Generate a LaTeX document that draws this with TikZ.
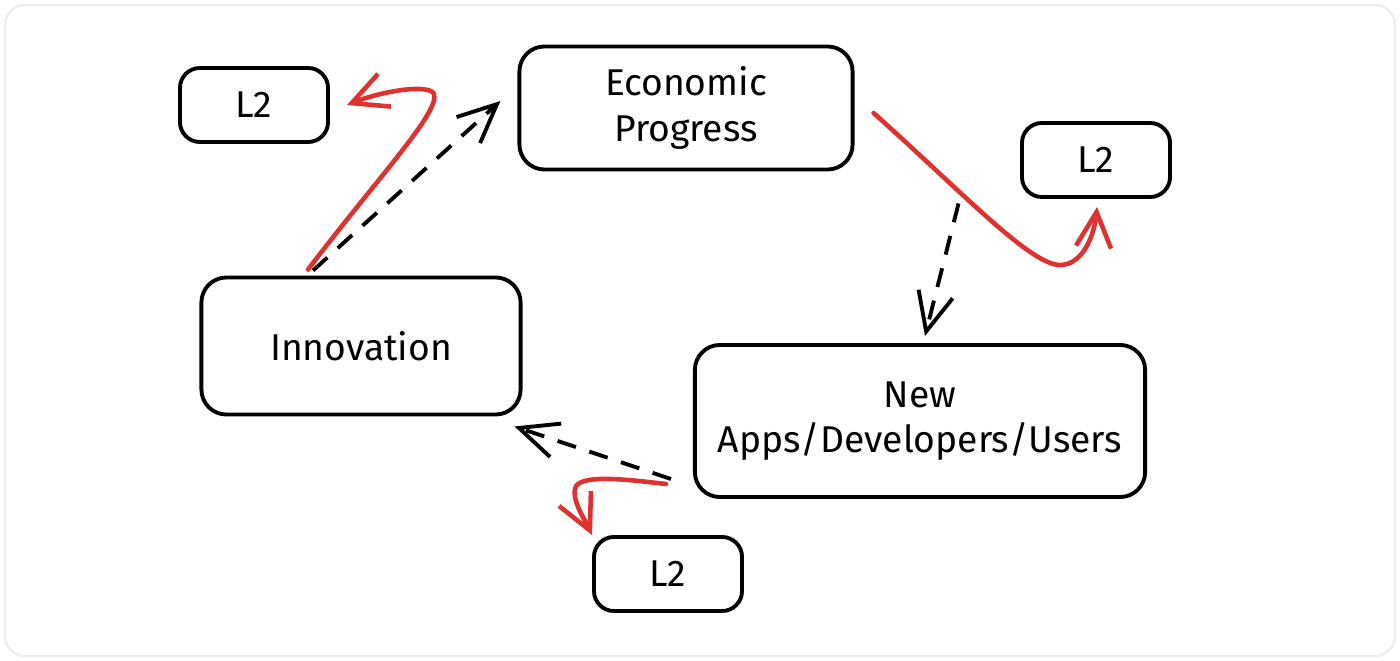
\documentclass[tikz,border=0pt]{standalone}
\usepackage{fontspec}
\setmainfont{Fira Sans}
\usetikzlibrary{arrows.meta}
\usetikzlibrary{positioning}
\usetikzlibrary{calc}
\definecolor{sketchred}{HTML}{E03131}

\begin{document}
\begin{tikzpicture}[x=0.01cm,y=-0.01cm,font=\fontsize{10.6}{13}\selectfont]
\tikzstyle{block} = [rectangle, draw=black, line width=1.1pt, rounded corners=0.25cm,
text centered, inner sep=0pt]
\tikzstyle{tag} = [block, minimum width=1.48cm, minimum height=0.74cm, rounded corners=0.2cm]
\tikzstyle{dashline} = [draw, line width=1.1pt, dash pattern=on 5.5pt off 4pt,
-{Straight Barb[length=11pt,width=10pt]}]
\tikzstyle{redline} = [draw=sketchred, line width=1.3pt, line cap=round,
-{Straight Barb[length=10pt,width=10pt]}]
% card
\useasboundingbox (0,0) rectangle (1400,661);
\draw[gray!15, line width=0.6pt, rounded corners=0.2cm] (5,5) rectangle (1395,656);
% boxes
\node [block, minimum width=3.33cm, minimum height=1.23cm, align=center] (econ) at (686,108) {Economic\\Progress};
\node [block, minimum width=3.19cm, minimum height=1.37cm] (innov) at (361,346) {Innovation};
\node [block, minimum width=4.50cm, minimum height=1.52cm, align=center] (apps) at (920,421) {New\\Apps/Developers/Users};
\node [tag] (tagleft) at (254,105) {L2};
\node [tag] (tagright) at (1096,160) {L2};
\node [tag] (tagbottom) at (668,574) {L2};
% cycle
\draw [dashline] ($(innov.north)+(-48,-5)$) -- ($(econ.west)+(-17,-7)$);
\draw [dashline] ($(econ.south east)+(104,32)$) -- ($(apps.north)+(5,-7)$);
\draw [dashline] ($(apps.south west)+(-22,-20)$) -- ($(innov.south east)+(-8,10)$);
% L2 hooks
\draw [redline] ($(innov.north)+(-53,-6)$) .. controls (380,175) and (440,112) .. (434,94)
  .. controls (430,84) and (385,90) .. ($(tagleft.east)+(17,0)$);
\draw [redline] ($(econ.east)+(19,5)$) .. controls (960,190) and (1030,265) .. (1060,265)
  .. controls (1085,265) and (1095,230) .. ($(tagright.south)+(1,8)$);
\draw [redline] ($(apps.south west)+(-27,-15)$) .. controls (630,480) and (585,474) .. (576,486)
  .. controls (570,498) and (585,520) .. (tagbottom.north west);
\end{tikzpicture}
\end{document}
